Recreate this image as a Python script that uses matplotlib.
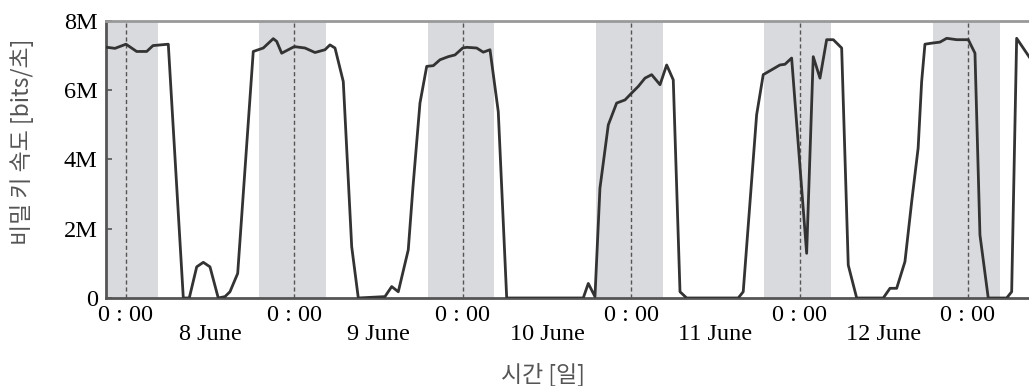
import numpy as np
import matplotlib
matplotlib.use("Agg")
import matplotlib.pyplot as plt

# hours after the first midnight (8 June 0:00) and key rate in Mbit/s
hours = [-2.71, -1.57, 0.0, 1.52, 2.95, 3.85, 6.03, 8.17, 9.02, 10.08, 11.02, 11.97,
         13.15, 14.11, 14.82, 15.92, 18.14, 19.57, 20.99, 21.48, 22.19, 23.13, 23.99,
         25.51, 26.94, 28.36, 29.07, 29.79, 30.97, 32.17, 33.11, 36.91, 37.87, 38.81,
         40.23, 40.9, 41.9, 42.86, 43.8, 44.75, 45.93, 46.89, 47.99, 48.56, 49.98,
         50.92, 51.88, 53.06, 54.26, 65.17, 65.89, 66.84, 67.55, 68.74, 69.93, 71.12,
         72.07, 73.01, 73.97, 74.92, 76.11, 77.06, 78.0, 78.96, 79.91, 87.26, 87.97,
         89.88, 90.82, 92.02, 93.2, 93.92, 94.87, 97.01, 97.95, 98.91, 99.86, 100.81,
         102.0, 102.94, 104.14, 107.93, 108.89, 109.84, 111.02, 111.98, 112.9, 113.4,
         113.87, 114.83, 116.01, 116.97, 118.39, 120.05, 121.0, 121.71, 122.89,
         125.52, 126.23, 126.94, 128.84]
rate = [7.24, 7.21, 7.33, 7.12, 7.12, 7.29, 7.33, 0.0, 0.0, 0.9, 1.03, 0.9,
        0.0, 0.04, 0.18, 0.71, 7.12, 7.22, 7.49, 7.41, 7.07, 7.17, 7.26,
        7.22, 7.09, 7.17, 7.31, 7.22, 6.25, 1.48, 0.0, 0.04, 0.33, 0.18,
        1.39, 3.2, 5.63, 6.69, 6.71, 6.88, 6.97, 7.02, 7.22, 7.24, 7.22,
        7.10, 7.17, 5.38, 0.0, 0.0, 0.42, 0.04, 3.17, 5.0, 5.63, 5.72,
        5.92, 6.11, 6.35, 6.45, 6.16, 6.73, 6.3, 0.18, 0.0, 0.0, 0.18,
        5.29, 6.45, 6.59, 6.73, 6.75, 6.93, 1.29, 6.97, 6.35, 7.46, 7.46,
        7.22, 0.95, 0.0, 0.0, 0.28, 0.28, 1.05, 2.78, 4.33, 6.25,
        7.33, 7.36, 7.39, 7.5, 7.46, 7.46, 7.07, 1.82, 0.0,
        0.0, 0.18, 7.5, 6.93]

midnights = [0, 24, 48, 72, 96, 120]
day_labels = ["8 June", "9 June", "10 June", "11 June", "12 June"]
night_start = -5.0
night_end = 4.5

serif = "Liberation Serif"
kr = ["Noto Sans CJK KR", "DejaVu Sans"]

fig = plt.figure(figsize=(10.29, 3.86), dpi=100)
ax = fig.add_axes([0.103, 0.228, 0.897, 0.7176])

for m in midnights:
    ax.axvspan(m + night_start, m + night_end, color="#d9dadd", lw=0, zorder=0)
    ax.axvline(m, color="#555555", lw=1.0, ls=(0, (3, 2)), zorder=1)

ax.plot(hours, np.array(rate) * 1e6, color="#333333", lw=2.0, zorder=3)

ax.set_xlim(-2.85, 128.7)
ax.set_ylim(0, 8e6)

ax.set_yticks([0, 2e6, 4e6, 6e6, 8e6])
ax.set_yticklabels(["0", "2M", "4M", "6M", "8M"], fontfamily=serif, fontsize=17.5)
ax.tick_params(axis="y", direction="in", length=4, width=1.2, color="#555555", pad=6)

ax.set_xticks(midnights)
ax.set_xticklabels(["0 : 00"] * len(midnights), fontfamily=serif, fontsize=17.5)
ax.set_xticks([m + 12 for m in midnights[:-1]], minor=True)
ax.set_xticklabels(day_labels, minor=True, fontfamily=serif, fontsize=17.5)
ax.tick_params(axis="x", which="major", length=0, pad=5)
ax.tick_params(axis="x", which="minor", length=0, pad=19)

for s in ["left", "bottom"]:
    ax.spines[s].set_color("#555555")
    ax.spines[s].set_linewidth(2)
ax.spines["top"].set_color("#999999")
ax.spines["top"].set_linewidth(2)
ax.spines["right"].set_visible(False)

ax.set_ylabel("비밀 키 속도 [bits/초]", family=kr, fontsize=16.5, color="#555555")
ax.yaxis.set_label_coords(-0.078, 0.563)
ax.set_xlabel("시간 [일]", family=kr, fontsize=16.5, color="#555555")
ax.xaxis.set_label_coords(0.473, -0.235)

fig.savefig("out.png", dpi=100)
